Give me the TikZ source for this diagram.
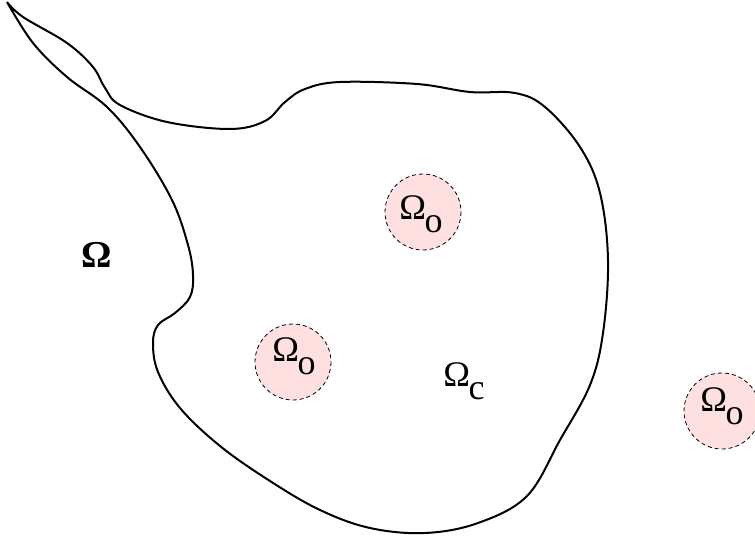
\documentclass[tikz,border=0pt]{standalone}
\usepackage{fontspec}
\setmainfont{Liberation Serif}
\newfontfamily\grserif{Liberation Serif}
\usepackage{xcolor}
\newcommand{\lowsub}[1]{\kern-0.04em\raisebox{-0.36em}{#1}}

\begin{document}
\begin{tikzpicture}[x=0.5pt,y=-0.5pt,
  hole/.style={draw,line width=0.4pt,dash pattern=on 2pt off 1.5pt,fill=red!12},
  lbl/.style={font=\grserif\fontsize{18}{21}\selectfont,inner sep=0pt}]
  \def\rr{38}
  \useasboundingbox (0,0) rectangle (755,540);

  % outer boundary, from the cusp down and round
  \draw[line width=1pt,line join=round] plot[smooth,tension=0.6] coordinates {
    (7,2) (33,43) (67,77) (107,107) (140,147) (172,200) (188,245) (193,275)
    (190,297) (175,313) (158,325) (153,343) (158,372) (180,408) (220,446)
    (270,481) (320,510) (370,528) (425,533) (478,523) (527,496) (560,440)
    (590,385) (603,333) (608,260) (600,193) (580,147) (545,107) (515,93)
    (470,92) (417,84) (340,82) (305,89) (285,102) (265,121) (230,129)
    (167,122) (120,105) (105,88) (93,67) (67,43) (23,17) (7,2)};

  \filldraw[hole] (423,212) circle(\rr);
  \filldraw[hole] (293,362) circle(\rr);
  \filldraw[hole] (722,411) circle(\rr);

  \node[lbl] (o1) at (421,214) {Ω\lowsub{o}};
  \node[lbl] (o2) at (294,356) {Ω\lowsub{o}};
  \node[lbl] (o3) at (722,406) {Ω\lowsub{o}};
  \node[lbl] (oc) at (464,381) {Ω\lowsub{c}};
  \node[lbl,font=\grserif\fontsize{19}{22}\selectfont\bfseries] (om) at (97,255) {Ω};
\end{tikzpicture}
\end{document}
